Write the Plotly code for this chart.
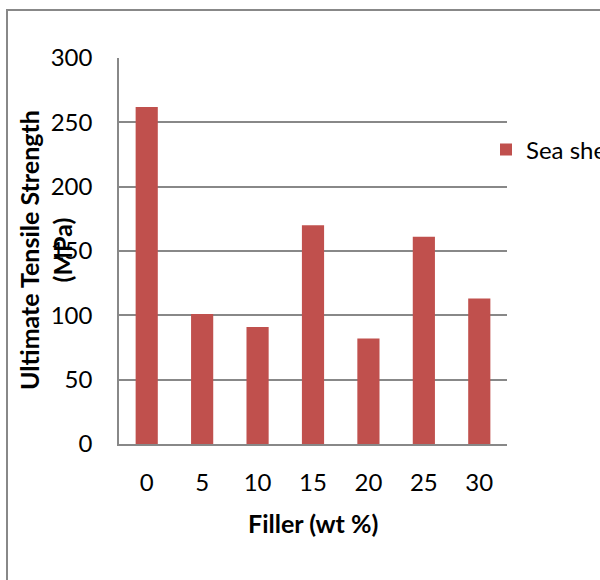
import plotly.graph_objects as go

filler = ["0", "5", "10", "15", "20", "25", "30"]
strength = [262, 101, 91, 170, 82, 161, 113]
series_name = "Sea shell"
y_ticks = [0, 50, 100, 150, 200, 250, 300]

W, H = 600, 580
L, R, T, B = 119, 600 - 507, 58, 580 - 444
pw, ph = W - L - R, H - T - B

def px(x):
    return (x - L) / pw

def py(y):
    return (H - B - y) / ph

FONT = "Lato, 'Open Sans', sans-serif"
GRID = "#888888"

fig = go.Figure()
fig.add_trace(go.Bar(x=filler, y=strength, name=series_name,
                     marker=dict(color="#C0504D", line=dict(width=0)),
                     width=0.4, showlegend=True))

fig.update_layout(
    width=W, height=H,
    margin=dict(l=L, r=R, t=T, b=B, autoexpand=False),
    paper_bgcolor="white", plot_bgcolor="white",
    font=dict(family=FONT, size=24, color="black"),
    showlegend=True,
    legend=dict(x=px(486), y=py(150), xanchor="left", yanchor="middle",
                bgcolor="rgba(0,0,0,0)", font=dict(size=24),
                itemclick=False),
    xaxis=dict(type="category", showgrid=False, showline=True, linecolor=GRID,
               linewidth=1.5, ticks="", ticklabelstandoff=16,
               tickfont=dict(size=24), fixedrange=True),
    yaxis=dict(range=[0, 300], tickvals=y_ticks, showgrid=True, gridcolor=GRID,
               gridwidth=1.5, showline=True, linecolor=GRID, linewidth=1.5,
               ticks="", ticklabelstandoff=20, zeroline=False,
               tickfont=dict(size=24), fixedrange=True),
    annotations=[
        dict(text="<b>Ultimate Tensile Strength<br>(MPa)</b>", textangle=-90,
             xref="paper", yref="paper", x=px(45), y=py(250),
             xanchor="center", yanchor="middle", showarrow=False,
             font=dict(size=25, color="black")),
        dict(text="<b>Filler (wt %)</b>", xref="paper", yref="paper",
             x=px(313), y=py(523), xanchor="center", yanchor="middle",
             showarrow=False, font=dict(size=25, color="black")),
    ],
    shapes=[
        dict(type="rect", xref="paper", yref="paper",
             x0=px(7), y0=py(10), x1=px(700), y1=py(700),
             line=dict(color="#888888", width=2), fillcolor="rgba(0,0,0,0)",
             layer="below"),
    ],
)

fig.write_html("out.html", config=dict(displayModeBar=False),
               post_script="document.body.style.margin='0';"
                           "document.body.style.overflow='hidden';")
